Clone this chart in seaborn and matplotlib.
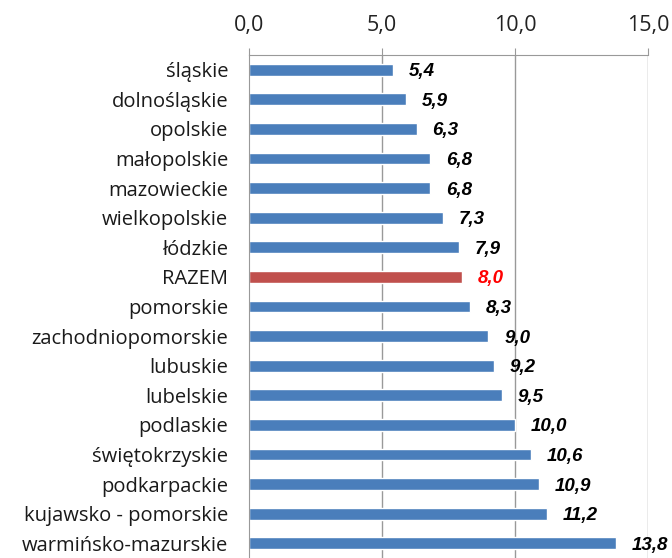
import pandas as pd
import numpy as np
import matplotlib.pyplot as plt
import seaborn as sns

regions = ['śląskie', 'dolnośląskie', 'opolskie', 'małopolskie', 'mazowieckie',
           'wielkopolskie', 'łódzkie', 'RAZEM', 'pomorskie', 'zachodniopomorskie',
           'lubuskie', 'lubelskie', 'podlaskie', 'świętokrzyskie', 'podkarpackie',
           'kujawsko - pomorskie', 'warmińsko-mazurskie']
values = [5.4, 5.9, 6.3, 6.8, 6.8, 7.3, 7.9, 8.0, 8.3, 9.0, 9.2, 9.5, 10.0, 10.6, 10.9, 11.2, 13.8]
x_ticks = [0, 5, 10, 15]

df = pd.DataFrame({'region': regions, 'value': values})

blue = '#4a7ebb'
red = '#c0504d'
palette = {r: (red if r == 'RAZEM' else blue) for r in regions}

sns.set_style('white')
plt.rcParams['font.family'] = ['Open Sans', 'DejaVu Sans']

fig = plt.figure(figsize=(6.72, 5.58), dpi=100)
ax = fig.add_axes([0.3705, 0.0, 0.5938, 0.9014])

sns.barplot(data=df, x='value', y='region', hue='region', palette=palette,
            orient='h', width=0.4, legend=False, ax=ax, saturation=1)

# value labels
for i, v in enumerate(values):
    col = '#ff0000' if regions[i] == 'RAZEM' else 'black'
    ax.text(v + 0.6, i, f'{v:.1f}'.replace('.', ','), va='center_baseline', ha='left',
            fontsize=13.5, fontweight='bold', fontstyle='italic', color=col,
            family=['Liberation Sans', 'DejaVu Sans'])

ax.set_xlim(0, 15)
ax.set_ylim(16.35, -0.5)
ax.xaxis.tick_top()
ax.set_xticks(x_ticks)
ax.set_xticklabels([f'{t:.1f}'.replace('.', ',') for t in x_ticks], fontsize=15.5)
ax.set_xlabel('')
ax.set_ylabel('')
ax.tick_params(axis='y', labelsize=14.5, length=0, pad=15, colors='#1a1a1a')
ax.tick_params(axis='x', length=5, color='#999999', pad=9, colors='#222222')

# minor ticks between categories on y axis
ax.set_yticks(np.arange(-0.5, len(regions), 1), minor=True)
ax.tick_params(axis='y', which='minor', length=6, color='#999999', width=1)

for t in x_ticks[1:]:
    ax.axvline(t, color='#999999', lw=1, zorder=0)

for s in ['right', 'bottom']:
    ax.spines[s].set_visible(False)
ax.spines['top'].set_color('#999999')
ax.spines['left'].set_color('#999999')

plt.savefig('out.png', dpi=100)
